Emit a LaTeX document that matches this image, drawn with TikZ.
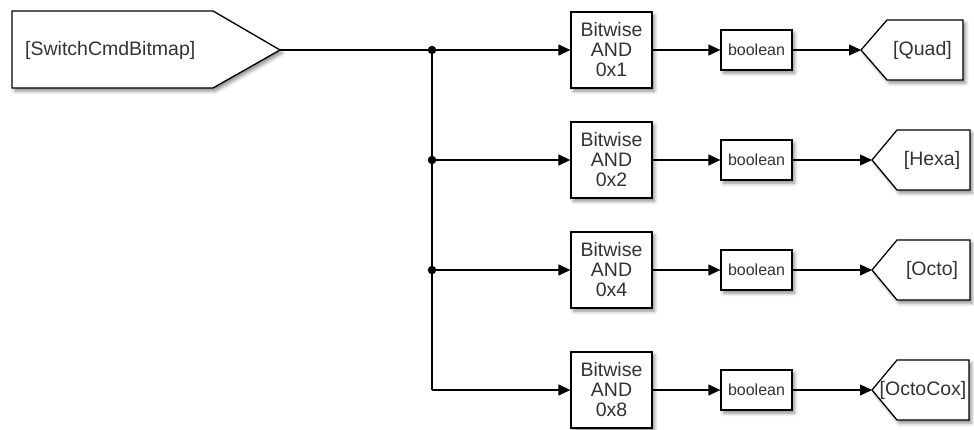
\documentclass[tikz,border=0pt]{standalone}
\usepackage{fontspec}
\setmainfont{Liberation Sans}
\usetikzlibrary{arrows.meta,shadows.blur}
\begin{document}
\begin{tikzpicture}[x=1pt,y=-1pt,
  wire/.style={line width=1.3pt,draw=black},
  sig/.style={wire,-{Triangle[length=12pt,width=11pt]}},
  blk/.style={draw=black,line width=1.3pt,fill=white,
    blur shadow={shadow xshift=2.5pt,shadow yshift=-3pt,
      shadow blur radius=3.5pt,shadow opacity=45}},
  bitbox/.style={blk,minimum width=81pt,minimum height=76pt,inner sep=0pt,
    align=center,font=\fontsize{19.5}{20}\selectfont,text=black!80},
  boolbox/.style={blk,minimum width=71pt,minimum height=40pt,inner sep=0pt,
    font=\fontsize{16}{18}\selectfont,text=black!80},
  lbl/.style={inner sep=0pt,font=\fontsize{19.5}{21}\selectfont,text=black!80},
  junction/.style={circle,fill=black,inner sep=0pt,minimum size=8.5pt}]
\useasboundingbox (0,0) rectangle (974,429);

% From block
\draw[blk] (12,11) -- (213,11) -- (280,50) -- (213,88) -- (12,88) -- cycle;
\coordinate (src) at (280,50);
\node[lbl,anchor=west] (srcl) at (25,50) {[SwitchCmdBitmap]};

% branch points
\node[junction] (j1) at (432,50) {};
\node[junction] (j2) at (432,160) {};
\node[junction] (j3) at (432,270) {};
\coordinate (j4) at (432,390);
\draw[wire] (src) -- (j1.center);
\draw[wire] (j1.center) -- (j4);

% Bitwise AND blocks
\node[bitbox] (b1) at (611.5,50) {Bitwise\\AND\\0x1};
\node[bitbox] (b2) at (611.5,160) {Bitwise\\AND\\0x2};
\node[bitbox] (b3) at (611.5,270) {Bitwise\\AND\\0x4};
\node[bitbox] (b4) at (611.5,390) {Bitwise\\AND\\0x8};

% boolean conversion blocks
\node[boolbox] (c1) at (756.5,50) {boolean};
\node[boolbox] (c2) at (756.5,160) {boolean};
\node[boolbox] (c3) at (756.5,270) {boolean};
\node[boolbox] (c4) at (756.5,390) {boolean};

% Goto blocks
\draw[blk] (861,50) -- (887,20) -- (963,20) -- (963,80) -- (887,80) -- cycle;
\coordinate (g1) at (861,50);
\node[lbl] (g1l) at (922.5,50) {[Quad]};
\draw[blk] (872,160) -- (897,130) -- (970,130) -- (970,190) -- (897,190) -- cycle;
\coordinate (g2) at (872,160);
\node[lbl] (g2l) at (932,160) {[Hexa]};
\draw[blk] (872,270) -- (897,240) -- (970,240) -- (970,300) -- (897,300) -- cycle;
\coordinate (g3) at (872,270);
\node[lbl] (g3l) at (932,270) {[Octo]};
\draw[blk] (872,390) -- (897,360) -- (969,360) -- (969,420) -- (897,420) -- cycle;
\coordinate (g4) at (872,390);
\node[lbl] (g4l) at (923,390) {[OctoCox]};

% signal lines
\draw[sig] (j1) -- (b1);
\draw[sig] (j2) -- (b2);
\draw[sig] (j3) -- (b3);
\draw[sig] (j4) -- (b4);
\draw[sig] (b1) -- (c1);
\draw[sig] (b2) -- (c2);
\draw[sig] (b3) -- (c3);
\draw[sig] (b4) -- (c4);
\draw[sig] (c1) -- (g1);
\draw[sig] (c2) -- (g2);
\draw[sig] (c3) -- (g3);
\draw[sig] (c4) -- (g4);
\end{tikzpicture}
\end{document}
